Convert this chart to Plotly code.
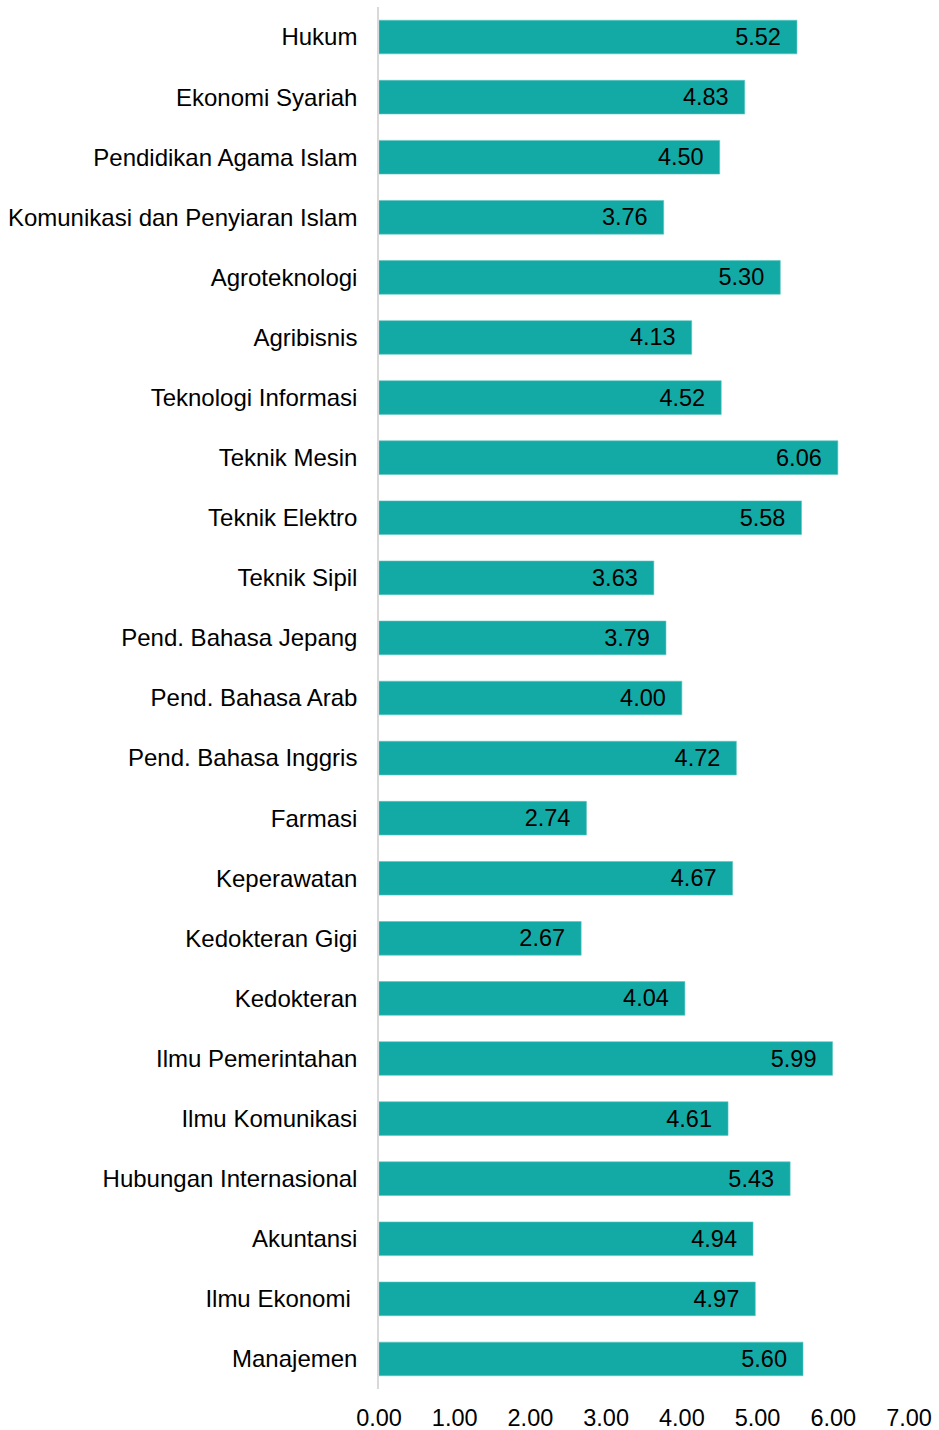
import plotly.graph_objects as go

# program studi, top to bottom as in the chart
prodi = [
    "Hukum", "Ekonomi Syariah", "Pendidikan Agama Islam",
    "Komunikasi dan Penyiaran Islam", "Agroteknologi", "Agribisnis",
    "Teknologi Informasi", "Teknik Mesin", "Teknik Elektro", "Teknik Sipil",
    "Pend. Bahasa Jepang", "Pend. Bahasa Arab", "Pend. Bahasa Inggris",
    "Farmasi", "Keperawatan", "Kedokteran Gigi", "Kedokteran",
    "Ilmu Pemerintahan", "Ilmu Komunikasi", "Hubungan Internasional",
    "Akuntansi", "Ilmu Ekonomi ", "Manajemen",
]
nilai = [
    5.52, 4.83, 4.50, 3.76, 5.30, 4.13, 4.52, 6.06, 5.58, 3.63, 3.79, 4.00,
    4.72, 2.74, 4.67, 2.67, 4.04, 5.99, 4.61, 5.43, 4.94, 4.97, 5.60,
]
x_ticks = [0, 1, 2, 3, 4, 5, 6, 7]

FONT = "Liberation Sans, Arial, sans-serif"

fig = go.Figure(
    go.Bar(
        x=nilai,
        y=prodi,
        orientation="h",
        marker=dict(color="#13aaa6", line=dict(color="#5cc4c1", width=0.6)),
        text=[f"{v:.2f}" + "\u00a0" * 2 for v in nilai],
        textposition="inside",
        insidetextanchor="end",
        textfont=dict(color="black", size=23.5, family=FONT),
        constraintext="none",
        cliponaxis=False,
    )
)

fig.update_layout(
    width=939,
    height=1430,
    margin=dict(l=379, r=30, t=7, b=41),
    plot_bgcolor="white",
    paper_bgcolor="white",
    bargap=0.44,
    showlegend=False,
    font=dict(family=FONT, size=24, color="black"),
)

fig.update_xaxes(
    range=[0, 7],
    tickvals=x_ticks,
    ticktext=[f"{t:.2f}" for t in x_ticks],
    showgrid=False,
    zeroline=False,
    showline=False,
    ticks="",
    automargin=False,
    ticklabelstandoff=12,
    tickfont=dict(size=23.5, color="black"),
)
fig.update_yaxes(
    autorange="reversed",
    showgrid=False,
    showline=True,
    linecolor="#d9d9d9",
    linewidth=1.5,
    ticks="",
    automargin=False,
    ticklabelstandoff=15,
    tickfont=dict(size=24, color="black"),
)

fig.write_html(
    "out.html",
    config={"displayModeBar": False},
    post_script="document.body.style.margin='0px';",
)
